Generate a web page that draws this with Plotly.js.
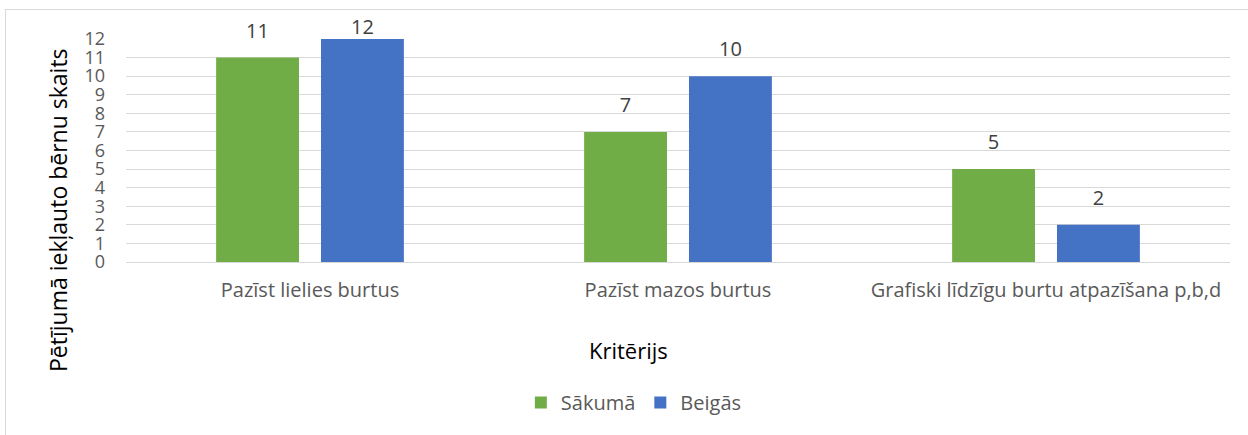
<!DOCTYPE html>
<html><head><meta charset="utf-8">
<script src="https://cdn.plot.ly/plotly-3.0.1.min.js"></script>
<style>
html,body{margin:0;padding:0;background:#fff;}
#frame{position:absolute;left:5px;top:9px;width:1300px;height:500px;border-left:1px solid #d9d9d9;border-top:1px solid #d9d9d9;pointer-events:none;}
#chart{position:absolute;left:0;top:0;width:1248px;height:435px;}
body{overflow:hidden;width:1248px;height:435px;}
</style></head>
<body>
<div id="chart"></div>
<div id="frame"></div>
<script>
const categories = ["Pazīst lielies burtus", "Pazīst mazos burtus", "Grafiski līdzīgu burtu atpazīšana p,b,d"];
const seriesNames = ["Sākumā", "Beigās"];
const sakuma = [11, 7, 5];
const beigas = [12, 10, 2];
const yTicks = [0,1,2,3,4,5,6,7,8,9,10,11,12];
const colors = ["#70ad47", "#4472c4"];
const FONT = "Open Sans, sans-serif";
const series = [sakuma, beigas];
const yMax = 12;

const bars = series.map((vals, i) => ({
  type: "bar", x: categories, y: vals, name: seriesNames[i],
  marker: {color: colors[i]}, offsetgroup: String(i),
  hoverinfo: "none"
}));
// labels sit above the bars; at the top of the axis they are pulled down into the chart, as in the original
const labels = series.map((vals, i) => ({
  type: "scatter", mode: "markers+text", x: categories, y: vals,
  offsetgroup: String(i), showlegend: false, cliponaxis: false,
  marker: {size: vals.map(v => v >= yMax ? 0 : 22), opacity: 0, color: colors[i]},
  text: vals.map(String), textposition: "top center",
  textfont: {family: FONT, size: 20, color: "#404040"},
  hoverinfo: "none"
}));

const layout = {
  width: 1248, height: 435,
  margin: {l: 126, r: 18, t: 39, b: 173},
  paper_bgcolor: "rgba(0,0,0,0)", plot_bgcolor: "#fff",
  barmode: "group", bargap: 0.43, bargroupgap: 0.21,
  scattermode: "group", scattergap: 0.43,
  font: {family: FONT, color: "#595959"},
  xaxis: {
    tickfont: {family: FONT, size: 20, color: "#595959"},
    showline: false, ticks: "", showgrid: false, automargin: false,
    ticklabelstandoff: 14
  },
  yaxis: {
    range: [0, yMax], tickvals: yTicks, ticktext: yTicks.map(String),
    tickfont: {family: FONT, size: 18, color: "#595959"},
    gridcolor: "#d9d9d9", gridwidth: 1, zeroline: true, zerolinecolor: "#d9d9d9",
    showline: false, ticks: "", ticklabelstandoff: 20, automargin: false
  },
  showlegend: true,
  legend: {orientation: "h", x: 0.46, xanchor: "center", y: -0.63, yanchor: "middle",
    font: {family: FONT, size: 20, color: "#595959"}, traceorder: "normal"},
  annotations: [{
    text: "Kritērijs", xref: "paper", yref: "paper", x: 0.455, y: -0.395,
    xanchor: "center", yanchor: "middle", showarrow: false,
    font: {family: FONT, size: 22, color: "#000"}
  }, {
    text: "Pētījumā iekļauto bērnu skaits", xref: "paper", yref: "paper",
    x: (58 - 126) / 1104, y: (262 - 210) / 223, textangle: -90,
    xanchor: "center", yanchor: "middle", showarrow: false,
    font: {family: FONT, size: 23, color: "#000"}
  }]
};
Plotly.newPlot("chart", bars.concat(labels), layout, {displayModeBar: false, staticPlot: true});
</script>
</body></html>
